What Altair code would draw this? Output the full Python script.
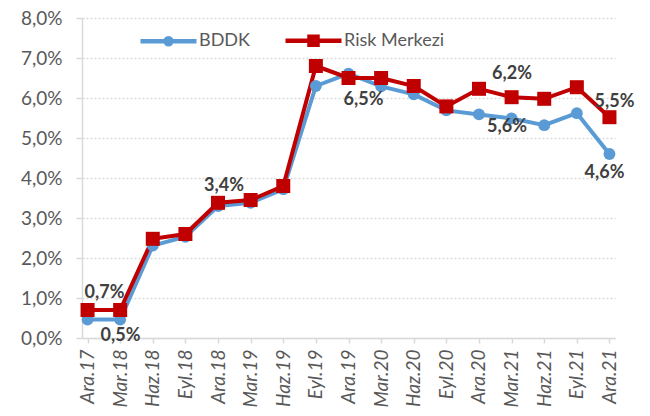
import altair as alt
import pandas as pd

categories = ["Ara.17", "Mar.18", "Haz.18", "Eyl.18", "Ara.18", "Mar.19", "Haz.19", "Eyl.19",
              "Ara.19", "Mar.20", "Haz.20", "Eyl.20", "Ara.20", "Mar.21", "Haz.21", "Eyl.21", "Ara.21"]
series_names = ["BDDK", "Risk Merkezi"]
bddk = [0.46, 0.46, 2.31, 2.53, 3.30, 3.38, 3.72, 6.30, 6.61, 6.29, 6.09, 5.69, 5.59, 5.49, 5.32, 5.62, 4.60]
risk = [0.70, 0.70, 2.48, 2.60, 3.38, 3.45, 3.80, 6.80, 6.50, 6.50, 6.30, 5.79, 6.23, 6.02, 5.98, 6.27, 5.52]
colors = ["#5B9BD5", "#C00000"]

rows = []
for s, vals in zip(series_names, [bddk, risk]):
    for c, v in zip(categories, vals):
        rows.append({"date": c, "series": s, "value": v})
df = pd.DataFrame(rows)

FONT = "Lato"
GREY = "#D9D9D9"

# legend symbols: a line through a (stroke-filled) circle / square; unit = 28px
circle_path = ("M-1,0L1,0"
               "M0.107,0A0.107,0.107,0,1,1,-0.107,0A0.107,0.107,0,1,1,0.107,0Z"
               "M0.04,0A0.04,0.04,0,1,1,-0.04,0A0.04,0.04,0,1,1,0.04,0Z")
square_path = ("M-1,0L1,0"
               "M-0.143,-0.143L0.143,-0.143L0.143,0.143L-0.143,0.143Z"
               "M-0.05,-0.05L0.05,-0.05L0.05,0.05L-0.05,0.05Z")

x_enc = alt.X("date:O", sort=categories,
              scale=alt.Scale(type="point", padding=0.17),
              axis=alt.Axis(title=None, labelAngle=270, labelFontStyle="italic",
                            labelFont=FONT, labelFontSize=19, labelColor="#595959",
                            labelPadding=6, tickSize=5, tickColor=GREY, tickWidth=1.5,
                            domainColor=GREY, domainWidth=1.5, grid=False))
y_enc = alt.Y("value:Q",
              scale=alt.Scale(domain=[0, 8], nice=False),
              axis=alt.Axis(title=None, values=[0, 1, 2, 3, 4, 5, 6, 7, 8],
                            labelExpr="replace(format(datum.value, '.1f'), '.', ',') + '%'",
                            labelFont=FONT, labelFontSize=19, labelColor="#595959",
                            labelPadding=14, tickSize=6, tickColor=GREY, tickWidth=1.5,
                            domainColor=GREY, domainWidth=1.5,
                            grid=True, gridColor=GREY, gridDash=[2, 2], gridWidth=1.5))

color_scale = alt.Scale(domain=series_names, range=colors)


def make_legend():
    return alt.Legend(
        title=None, orient="none", direction="horizontal", legendX=56, legendY=-8,
        padding=0, columnPadding=26, labelOffset=0, symbolSize=3136,
        symbolStrokeWidth=4.5, symbolOpacity=1,
        labelFont=FONT, labelFontSize=18, labelColor="#595959",
    )


base = alt.Chart(df)

legend_layer = base.transform_filter("false").mark_point(
    filled=False, opacity=1, strokeWidth=4.5
).encode(
    x=x_enc, y=y_enc,
    color=alt.Color("series:N", scale=color_scale, legend=make_legend()),
    shape=alt.Shape("series:N", scale=alt.Scale(domain=series_names, range=[circle_path, square_path]),
                    legend=make_legend()),
)

lines = base.mark_line(strokeWidth=4).encode(
    x=x_enc, y=y_enc,
    color=alt.Color("series:N", scale=color_scale, legend=make_legend()),
    order=alt.Order("series:N"),
)

pts_bddk = base.transform_filter(alt.datum.series == "BDDK").mark_point(
    filled=True, opacity=1, shape="circle", size=140, color=colors[0]
).encode(x=x_enc, y=y_enc)

pts_risk = base.transform_filter(alt.datum.series == "Risk Merkezi").mark_point(
    filled=True, opacity=1, shape="square", size=196, color=colors[1]
).encode(x=x_enc, y=y_enc)

label_specs = [
    ("Ara.17", "Risk Merkezi", 17, -17),
    ("Ara.17", "BDDK", 33, 16),
    ("Ara.18", "Risk Merkezi", 6, -17),
    ("Ara.19", "Risk Merkezi", 15, 22),
    ("Ara.20", "Risk Merkezi", 33, -15),
    ("Ara.20", "BDDK", 28, 13),
    ("Ara.21", "Risk Merkezi", 5, -15),
    ("Ara.21", "BDDK", -5, 19),
]

layers = [legend_layer, lines, pts_bddk, pts_risk]
for cat, ser, dx, dy in label_specs:
    layers.append(
        base.transform_filter(
            (alt.datum.date == cat) & (alt.datum.series == ser)
        ).transform_calculate(
            label="replace(format(datum.value, '.1f'), '.', ',') + '%'"
        ).mark_text(font=FONT, fontSize=18, fontWeight="bold", color="#404040",
                    dx=dx, dy=dy, baseline="middle", align="center").encode(
            x=x_enc, y=y_enc, text="label:N"
        )
    )

chart = alt.layer(*layers).properties(
    width=533, height=320,
    autosize=alt.AutoSizeParams(type="none"),
    padding={"left": 74, "top": 10, "right": 27, "bottom": 70},
).configure_view(stroke=None)

chart.save("out.html", embed_options={"renderer": "svg", "actions": False})
